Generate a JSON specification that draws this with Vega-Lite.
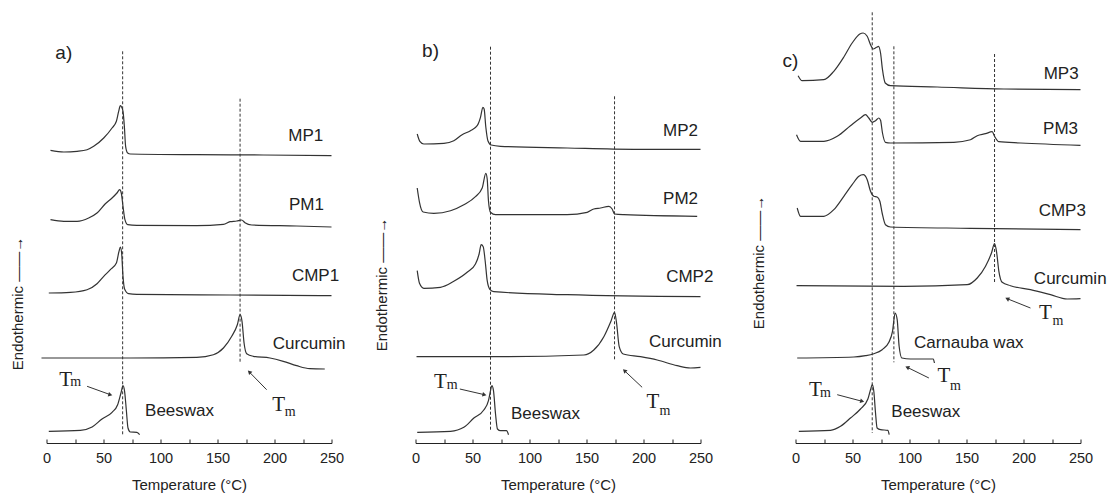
{
  "$schema": "https://vega.github.io/schema/vega-lite/v6.json",
  "background": "white",
  "padding": {"left": 9.5, "top": 10, "right": 0, "bottom": 0},
  "bounds": "flush",
  "spacing": 84,
  "config": {
    "view": {"stroke": null},
    "font": "Liberation Sans",
    "axisX": {
      "tickSize": -4, "labelPadding": 12, "grid": false,
      "domainColor": "#222", "tickColor": "#222",
      "labelFont": "Liberation Sans", "labelFontSize": 14.5, "labelColor": "#222",
      "titleFont": "Liberation Sans", "titleFontSize": 15, "titleFontWeight": "normal", "titleColor": "#222", "titlePadding": 13
    },
    "axisY": {
      "domain": false, "ticks": false, "labels": false, "grid": false,
      "titleFont": "Liberation Sans", "titleFontSize": 15, "titleFontWeight": "normal", "titleColor": "#222",
      "titleBaseline": "alphabetic", "titleAlign": "center"
    }
  },
  "datasets": {
    "curves": [
      {"p":"a","s":"MP1","t":3.5,"h":292.7},{"p":"a","s":"MP1","t":15.2,"h":291.0},{"p":"a","s":"MP1","t":26.8,"h":291.7},{"p":"a","s":"MP1","t":35.6,"h":293.3},{"p":"a","s":"MP1","t":41.4,"h":296.7},{"p":"a","s":"MP1","t":50.2,"h":305.0},{"p":"a","s":"MP1","t":57.5,"h":315.0},{"p":"a","s":"MP1","t":61.3,"h":321.7},{"p":"a","s":"MP1","t":63.3,"h":331.7},{"p":"a","s":"MP1","t":64.8,"h":337.3},{"p":"a","s":"MP1","t":65.9,"h":336.0},{"p":"a","s":"MP1","t":67.1,"h":331.7},{"p":"a","s":"MP1","t":68.3,"h":316.7},{"p":"a","s":"MP1","t":69.4,"h":296.7},{"p":"a","s":"MP1","t":71.2,"h":290.0},{"p":"a","s":"MP1","t":73.5,"h":289.0},{"p":"a","s":"MP1","t":131.8,"h":288.3},{"p":"a","s":"MP1","t":190.2,"h":288.0},{"p":"a","s":"MP1","t":250,"h":287.3},
      {"p":"a","s":"PM1","t":3.5,"h":223.3},{"p":"a","s":"PM1","t":15.2,"h":221.7},{"p":"a","s":"PM1","t":26.8,"h":221.7},{"p":"a","s":"PM1","t":37.0,"h":225.0},{"p":"a","s":"PM1","t":44.3,"h":230.0},{"p":"a","s":"PM1","t":51.6,"h":239.3},{"p":"a","s":"PM1","t":57.5,"h":245.0},{"p":"a","s":"PM1","t":61.8,"h":250.0},{"p":"a","s":"PM1","t":64.2,"h":253.3},{"p":"a","s":"PM1","t":65.6,"h":250.0},{"p":"a","s":"PM1","t":67.1,"h":236.7},{"p":"a","s":"PM1","t":68.8,"h":223.3},{"p":"a","s":"PM1","t":71.2,"h":218.3},{"p":"a","s":"PM1","t":79.3,"h":217.7},{"p":"a","s":"PM1","t":131.8,"h":217.3},{"p":"a","s":"PM1","t":155.2,"h":218.7},{"p":"a","s":"PM1","t":161.0,"h":221.3},{"p":"a","s":"PM1","t":166.9,"h":222.0},{"p":"a","s":"PM1","t":171.2,"h":223.0},{"p":"a","s":"PM1","t":174.1,"h":220.3},{"p":"a","s":"PM1","t":180.0,"h":218.0},{"p":"a","s":"PM1","t":219.4,"h":217.0},{"p":"a","s":"PM1","t":250,"h":216.0},
      {"p":"a","s":"CMP1","t":2.0,"h":150.0},{"p":"a","s":"CMP1","t":21.0,"h":150.7},{"p":"a","s":"CMP1","t":35.6,"h":153.3},{"p":"a","s":"CMP1","t":44.3,"h":159.3},{"p":"a","s":"CMP1","t":50.2,"h":166.7},{"p":"a","s":"CMP1","t":56.0,"h":173.3},{"p":"a","s":"CMP1","t":61.3,"h":180.0},{"p":"a","s":"CMP1","t":63.6,"h":191.7},{"p":"a","s":"CMP1","t":64.8,"h":196.0},{"p":"a","s":"CMP1","t":65.9,"h":190.0},{"p":"a","s":"CMP1","t":67.1,"h":166.7},{"p":"a","s":"CMP1","t":68.5,"h":154.0},{"p":"a","s":"CMP1","t":72.0,"h":149.3},{"p":"a","s":"CMP1","t":79.3,"h":148.7},{"p":"a","s":"CMP1","t":161.0,"h":148.0},{"p":"a","s":"CMP1","t":250,"h":147.3},
      {"p":"a","s":"Cur","t":-4.4,"h":85.0},{"p":"a","s":"Cur","t":73.5,"h":85.0},{"p":"a","s":"Cur","t":131.8,"h":85.7},{"p":"a","s":"Cur","t":146.4,"h":88.3},{"p":"a","s":"Cur","t":155.2,"h":95.0},{"p":"a","s":"Cur","t":162.5,"h":106.7},{"p":"a","s":"Cur","t":167.4,"h":118.3},{"p":"a","s":"Cur","t":169.8,"h":128.3},{"p":"a","s":"Cur","t":171.5,"h":121.7},{"p":"a","s":"Cur","t":173.3,"h":100.0},{"p":"a","s":"Cur","t":175.6,"h":89.3},{"p":"a","s":"Cur","t":181.4,"h":86.7},{"p":"a","s":"Cur","t":196.0,"h":85.0},{"p":"a","s":"Cur","t":207.7,"h":81.7},{"p":"a","s":"Cur","t":219.4,"h":77.3},{"p":"a","s":"Cur","t":231.0,"h":74.3},{"p":"a","s":"Cur","t":244.1,"h":74.0},
      {"p":"a","s":"Bee","t":2.0,"h":11.7},{"p":"a","s":"Bee","t":29.8,"h":12.7},{"p":"a","s":"Bee","t":40.0,"h":16.0},{"p":"a","s":"Bee","t":48.7,"h":24.0},{"p":"a","s":"Bee","t":57.5,"h":30.7},{"p":"a","s":"Bee","t":62.4,"h":38.3},{"p":"a","s":"Bee","t":65.3,"h":50.0},{"p":"a","s":"Bee","t":67.1,"h":57.3},{"p":"a","s":"Bee","t":68.5,"h":51.7},{"p":"a","s":"Bee","t":70.0,"h":33.3},{"p":"a","s":"Bee","t":71.5,"h":15.0},{"p":"a","s":"Bee","t":73.5,"h":11.0},{"p":"a","s":"Bee","t":79.3,"h":10.7},{"p":"a","s":"Bee","t":81.7,"h":8.3},

      {"p":"b","s":"MP2","t":1.5,"h":309.0},{"p":"b","s":"MP2","t":3.8,"h":301.7},{"p":"b","s":"MP2","t":7.3,"h":299.0},{"p":"b","s":"MP2","t":24.9,"h":299.7},{"p":"b","s":"MP2","t":33.6,"h":302.3},{"p":"b","s":"MP2","t":40.9,"h":308.3},{"p":"b","s":"MP2","t":48.2,"h":312.3},{"p":"b","s":"MP2","t":54.1,"h":317.3},{"p":"b","s":"MP2","t":57.0,"h":325.7},{"p":"b","s":"MP2","t":59.1,"h":335.7},{"p":"b","s":"MP2","t":60.2,"h":334.0},{"p":"b","s":"MP2","t":61.7,"h":315.7},{"p":"b","s":"MP2","t":63.5,"h":302.3},{"p":"b","s":"MP2","t":66.4,"h":298.0},{"p":"b","s":"MP2","t":74.6,"h":296.7},{"p":"b","s":"MP2","t":133.0,"h":295.0},{"p":"b","s":"MP2","t":191.5,"h":293.7},{"p":"b","s":"MP2","t":250,"h":293.7},
      {"p":"b","s":"PM2","t":1.5,"h":255.0},{"p":"b","s":"PM2","t":3.5,"h":240.7},{"p":"b","s":"PM2","t":6.7,"h":231.0},{"p":"b","s":"PM2","t":16.1,"h":229.7},{"p":"b","s":"PM2","t":30.7,"h":232.3},{"p":"b","s":"PM2","t":42.4,"h":238.3},{"p":"b","s":"PM2","t":52.6,"h":246.3},{"p":"b","s":"PM2","t":58.5,"h":255.0},{"p":"b","s":"PM2","t":61.7,"h":269.7},{"p":"b","s":"PM2","t":62.9,"h":264.0},{"p":"b","s":"PM2","t":64.0,"h":242.3},{"p":"b","s":"PM2","t":65.8,"h":230.7},{"p":"b","s":"PM2","t":70.2,"h":228.3},{"p":"b","s":"PM2","t":133.0,"h":228.3},{"p":"b","s":"PM2","t":150.6,"h":230.7},{"p":"b","s":"PM2","t":156.4,"h":234.0},{"p":"b","s":"PM2","t":162.3,"h":235.0},{"p":"b","s":"PM2","t":169.6,"h":236.7},{"p":"b","s":"PM2","t":172.5,"h":234.0},{"p":"b","s":"PM2","t":174.6,"h":229.0},{"p":"b","s":"PM2","t":182.8,"h":228.3},{"p":"b","s":"PM2","t":247.1,"h":226.7},
      {"p":"b","s":"CMP2","t":1.5,"h":172.3},{"p":"b","s":"CMP2","t":3.5,"h":159.7},{"p":"b","s":"CMP2","t":7.3,"h":154.7},{"p":"b","s":"CMP2","t":21.9,"h":155.7},{"p":"b","s":"CMP2","t":33.6,"h":161.7},{"p":"b","s":"CMP2","t":45.3,"h":170.7},{"p":"b","s":"CMP2","t":52.6,"h":179.0},{"p":"b","s":"CMP2","t":55.8,"h":189.0},{"p":"b","s":"CMP2","t":57.6,"h":198.3},{"p":"b","s":"CMP2","t":59.4,"h":196.3},{"p":"b","s":"CMP2","t":61.1,"h":182.3},{"p":"b","s":"CMP2","t":62.9,"h":162.3},{"p":"b","s":"CMP2","t":65.2,"h":153.7},{"p":"b","s":"CMP2","t":68.7,"h":151.3},{"p":"b","s":"CMP2","t":133.0,"h":148.3},{"p":"b","s":"CMP2","t":250,"h":146.3},
      {"p":"b","s":"Cur","t":0.9,"h":86.3},{"p":"b","s":"Cur","t":74.6,"h":86.3},{"p":"b","s":"Cur","t":147.7,"h":88.0},{"p":"b","s":"Cur","t":156.4,"h":93.0},{"p":"b","s":"Cur","t":165.2,"h":106.3},{"p":"b","s":"Cur","t":171.6,"h":122.3},{"p":"b","s":"Cur","t":174.6,"h":130.7},{"p":"b","s":"Cur","t":176.3,"h":120.7},{"p":"b","s":"Cur","t":178.7,"h":96.3},{"p":"b","s":"Cur","t":182.2,"h":89.0},{"p":"b","s":"Cur","t":197.4,"h":86.3},{"p":"b","s":"Cur","t":212.0,"h":83.0},{"p":"b","s":"Cur","t":229.5,"h":77.3},{"p":"b","s":"Cur","t":241.2,"h":75.0},{"p":"b","s":"Cur","t":250,"h":75.7},
      {"p":"b","s":"Bee","t":1.5,"h":10.7},{"p":"b","s":"Bee","t":30.7,"h":11.7},{"p":"b","s":"Bee","t":42.4,"h":15.7},{"p":"b","s":"Bee","t":51.2,"h":25.0},{"p":"b","s":"Bee","t":59.9,"h":33.0},{"p":"b","s":"Bee","t":64.0,"h":42.3},{"p":"b","s":"Bee","t":65.8,"h":52.3},{"p":"b","s":"Bee","t":67.0,"h":57.3},{"p":"b","s":"Bee","t":68.4,"h":52.3},{"p":"b","s":"Bee","t":70.2,"h":29.0},{"p":"b","s":"Bee","t":71.9,"h":14.0},{"p":"b","s":"Bee","t":74.6,"h":12.3},{"p":"b","s":"Bee","t":79.8,"h":12.3},{"p":"b","s":"Bee","t":81.6,"h":8.3},

      {"p":"c","s":"MP3","t":2.3,"h":367.3},{"p":"c","s":"MP3","t":5.8,"h":362.3},{"p":"c","s":"MP3","t":24.9,"h":363.3},{"p":"c","s":"MP3","t":33.6,"h":371.7},{"p":"c","s":"MP3","t":42.4,"h":386.0},{"p":"c","s":"MP3","t":49.7,"h":400.0},{"p":"c","s":"MP3","t":56.4,"h":409.0},{"p":"c","s":"MP3","t":59.4,"h":410.0},{"p":"c","s":"MP3","t":62.9,"h":406.7},{"p":"c","s":"MP3","t":65.8,"h":398.3},{"p":"c","s":"MP3","t":68.1,"h":394.0},{"p":"c","s":"MP3","t":71.1,"h":395.7},{"p":"c","s":"MP3","t":72.8,"h":396.7},{"p":"c","s":"MP3","t":74.6,"h":390.0},{"p":"c","s":"MP3","t":76.3,"h":373.3},{"p":"c","s":"MP3","t":78.7,"h":360.0},{"p":"c","s":"MP3","t":83.3,"h":357.3},{"p":"c","s":"MP3","t":124.3,"h":356.0},{"p":"c","s":"MP3","t":182.8,"h":354.0},{"p":"c","s":"MP3","t":250,"h":353.3},
      {"p":"c","s":"PM3","t":0.9,"h":308.3},{"p":"c","s":"PM3","t":4.4,"h":301.7},{"p":"c","s":"PM3","t":24.9,"h":301.7},{"p":"c","s":"PM3","t":36.6,"h":306.7},{"p":"c","s":"PM3","t":48.2,"h":317.3},{"p":"c","s":"PM3","t":57.0,"h":325.0},{"p":"c","s":"PM3","t":61.4,"h":328.3},{"p":"c","s":"PM3","t":64.3,"h":325.0},{"p":"c","s":"PM3","t":67.3,"h":320.7},{"p":"c","s":"PM3","t":70.2,"h":322.3},{"p":"c","s":"PM3","t":73.1,"h":325.0},{"p":"c","s":"PM3","t":74.6,"h":322.7},{"p":"c","s":"PM3","t":76.3,"h":310.0},{"p":"c","s":"PM3","t":78.9,"h":300.7},{"p":"c","s":"PM3","t":83.3,"h":300.0},{"p":"c","s":"PM3","t":138.9,"h":300.7},{"p":"c","s":"PM3","t":153.5,"h":303.3},{"p":"c","s":"PM3","t":159.4,"h":307.3},{"p":"c","s":"PM3","t":166.7,"h":309.3},{"p":"c","s":"PM3","t":172.5,"h":311.3},{"p":"c","s":"PM3","t":174.6,"h":306.7},{"p":"c","s":"PM3","t":178.4,"h":301.3},{"p":"c","s":"PM3","t":197.4,"h":300.0},{"p":"c","s":"PM3","t":250,"h":297.7},
      {"p":"c","s":"CMP3","t":1.5,"h":235.0},{"p":"c","s":"CMP3","t":4.4,"h":226.7},{"p":"c","s":"CMP3","t":24.9,"h":226.7},{"p":"c","s":"CMP3","t":33.6,"h":233.3},{"p":"c","s":"CMP3","t":42.4,"h":246.7},{"p":"c","s":"CMP3","t":49.7,"h":258.3},{"p":"c","s":"CMP3","t":55.6,"h":266.7},{"p":"c","s":"CMP3","t":59.4,"h":268.3},{"p":"c","s":"CMP3","t":62.9,"h":263.3},{"p":"c","s":"CMP3","t":65.8,"h":251.7},{"p":"c","s":"CMP3","t":68.7,"h":246.7},{"p":"c","s":"CMP3","t":71.6,"h":246.0},{"p":"c","s":"CMP3","t":74.0,"h":241.7},{"p":"c","s":"CMP3","t":76.0,"h":230.0},{"p":"c","s":"CMP3","t":78.9,"h":218.3},{"p":"c","s":"CMP3","t":83.3,"h":216.0},{"p":"c","s":"CMP3","t":153.5,"h":214.7},{"p":"c","s":"CMP3","t":250,"h":213.3},
      {"p":"c","s":"Cur","t":0.9,"h":157.3},{"p":"c","s":"Cur","t":95.0,"h":156.7},{"p":"c","s":"Cur","t":150.6,"h":158.3},{"p":"c","s":"Cur","t":159.4,"h":165.0},{"p":"c","s":"Cur","t":166.7,"h":176.7},{"p":"c","s":"Cur","t":171.9,"h":190.0},{"p":"c","s":"Cur","t":174.6,"h":199.3},{"p":"c","s":"Cur","t":176.3,"h":191.7},{"p":"c","s":"Cur","t":178.4,"h":171.7},{"p":"c","s":"Cur","t":181.3,"h":160.7},{"p":"c","s":"Cur","t":188.6,"h":157.3},{"p":"c","s":"Cur","t":206.1,"h":153.3},{"p":"c","s":"Cur","t":223.7,"h":148.3},{"p":"c","s":"Cur","t":238.3,"h":144.0},{"p":"c","s":"Cur","t":250,"h":144.3},
      {"p":"c","s":"Car","t":1.5,"h":85.0},{"p":"c","s":"Car","t":51.2,"h":86.0},{"p":"c","s":"Car","t":61.4,"h":87.3},{"p":"c","s":"Car","t":68.7,"h":89.3},{"p":"c","s":"Car","t":76.0,"h":93.3},{"p":"c","s":"Car","t":81.9,"h":100.7},{"p":"c","s":"Car","t":85.1,"h":111.7},{"p":"c","s":"Car","t":87.4,"h":130.0},{"p":"c","s":"Car","t":89.2,"h":123.3},{"p":"c","s":"Car","t":90.9,"h":96.7},{"p":"c","s":"Car","t":93.3,"h":85.0},{"p":"c","s":"Car","t":100.9,"h":84.0},{"p":"c","s":"Car","t":120.8,"h":84.0},{"p":"c","s":"Car","t":121.9,"h":80.0},
      {"p":"c","s":"Bee","t":2.9,"h":11.7},{"p":"c","s":"Bee","t":30.7,"h":12.7},{"p":"c","s":"Bee","t":39.5,"h":16.7},{"p":"c","s":"Bee","t":48.2,"h":25.0},{"p":"c","s":"Bee","t":57.0,"h":34.0},{"p":"c","s":"Bee","t":63.5,"h":44.0},{"p":"c","s":"Bee","t":65.8,"h":53.3},{"p":"c","s":"Bee","t":67.3,"h":58.3},{"p":"c","s":"Bee","t":68.7,"h":51.7},{"p":"c","s":"Bee","t":70.2,"h":30.0},{"p":"c","s":"Bee","t":71.6,"h":15.0},{"p":"c","s":"Bee","t":74.6,"h":13.3},{"p":"c","s":"Bee","t":81.0,"h":12.7},{"p":"c","s":"Bee","t":82.2,"h":8.3}
    ],
    "dashes": [
      {"p":"a","t":66.8,"h":391.7,"h2":6.7},{"p":"a","t":169.8,"h":344.3,"h2":80.0},
      {"p":"b","t":65.8,"h":396.3,"h2":12.3},{"p":"b","t":174.6,"h":346.7,"h2":82.3},
      {"p":"c","t":67.3,"h":430.7,"h2":10.0},{"p":"c","t":86.3,"h":396.7,"h2":80.7},{"p":"c","t":174.6,"h":389.0,"h2":160.0}
    ],
    "arrows": [
      {"p":"a","dir":"r","t":56.0,"h":48.3,"t2":35.6,"h2":56.7},
      {"p":"a","dir":"ul","t":177.9,"h":71.0,"t2":193.1,"h2":53.3},
      {"p":"b","dir":"r","t":60.5,"h":48.3,"t2":38.9,"h2":54.0},
      {"p":"b","dir":"ul","t":183.3,"h":72.3,"t2":198.8,"h2":55.7},
      {"p":"c","dir":"r","t":58.5,"h":41.7,"t2":36.6,"h2":48.3},
      {"p":"c","dir":"l","t":98.0,"h":75.7,"t2":117.0,"h2":65.0},
      {"p":"c","dir":"l","t":185.7,"h":144.3,"t2":206.1,"h2":135.0}
    ],
    "tm": [
      {"p":"a","c":"T","t":16.9,"h":63.3},{"p":"a","c":"m","t":25.7,"h":60.7},
      {"p":"a","c":"T","t":203.6,"h":37.7},{"p":"a","c":"m","t":213.8,"h":30.7},
      {"p":"b","c":"T","t":21.9,"h":60.7},{"p":"b","c":"m","t":32.2,"h":58.3},
      {"p":"b","c":"T","t":208.2,"h":40.7},{"p":"b","c":"m","t":218.7,"h":32.3},
      {"p":"c","c":"T","t":17.5,"h":53.3},{"p":"c","c":"m","t":26.3,"h":50.0},
      {"p":"c","c":"T","t":130.1,"h":66.7},{"p":"c","c":"m","t":140.4,"h":57.3},
      {"p":"c","c":"T","t":219.3,"h":130.0},{"p":"c","c":"m","t":230.1,"h":121.7}
    ],
    "labels": [
      {"p":"a","t":227.5,"h":307.0,"text":"MP1"},{"p":"a","t":228.0,"h":238.0,"text":"PM1"},{"p":"a","t":236.0,"h":167.0,"text":"CMP1"},{"p":"a","t":230.4,"h":99.0,"text":"Curcumin"},{"p":"a","t":116.7,"h":31.7,"text":"Beeswax"},
      {"p":"b","t":232.5,"h":312.3,"text":"MP2"},{"p":"b","t":232.5,"h":244.0,"text":"PM2"},{"p":"b","t":240.6,"h":165.7,"text":"CMP2"},{"p":"b","t":236.8,"h":101.3,"text":"Curcumin"},{"p":"b","t":114.0,"h":29.0,"text":"Beeswax"},
      {"p":"c","t":233.0,"h":369.0,"text":"MP3"},{"p":"c","t":232.5,"h":314.0,"text":"PM3"},{"p":"c","t":234.0,"h":231.7,"text":"CMP3"},{"p":"c","t":241.0,"h":164.0,"text":"Curcumin"},{"p":"c","t":152.0,"h":100.0,"text":"Carnauba wax"},{"p":"c","t":114.3,"h":30.7,"text":"Beeswax"}
    ],
    "letters": [
      {"p":"a","t":15.2,"h":390.0,"text":"a)"},
      {"p":"b","t":13.2,"h":392.3,"text":"b)"},
      {"p":"c","t":-4.4,"h":381.7,"text":"c)"}
    ]
  },
  "hconcat": [
    {
      "width": 285, "height": 433,
      "encoding": {
        "x": {"field": "t", "type": "quantitative", "scale": {"domain": [0, 250], "nice": false}, "title": "Temperature (°C)",
              "axis": {"values": [0, 25, 50, 75, 100, 125, 150, 175, 200, 225, 250], "labelExpr": "datum.value % 50 == 0 ? datum.label : ''", "labelOverlap": false, "labelFlush": false}},
        "y": {"field": "h", "type": "quantitative", "scale": {"domain": [0, 433], "nice": false, "zero": false}, "axis": {"title": "Endothermic ——→", "titleX": -24.5, "titleY": 293}}
      },
      "layer": [
        {"data": {"name": "curves"}, "transform": [{"filter": "datum.p == 'a'"}], "mark": {"type": "line", "color": "#333", "strokeWidth": 1.2, "interpolate": "monotone"}, "encoding": {"detail": {"field": "s"}}},
        {"data": {"name": "dashes"}, "transform": [{"filter": "datum.p == 'a'"}], "mark": {"type": "rule", "color": "#333", "strokeDash": [3, 2], "strokeWidth": 1}, "encoding": {"y2": {"field": "h2"}}},
        {"data": {"name": "arrows"}, "transform": [{"filter": "datum.p == 'a'"}], "mark": {"type": "rule", "color": "#333", "strokeWidth": 1}, "encoding": {"x2": {"field": "t2"}, "y2": {"field": "h2"}}},
        {"data": {"name": "arrows"}, "transform": [{"filter": "datum.p == 'a' && datum.dir == 'r'"}], "mark": {"type": "point", "shape": "triangle-right", "filled": true, "opacity": 1, "color": "#333", "size": 22, "angle": 15}},
        {"data": {"name": "arrows"}, "transform": [{"filter": "datum.p == 'a' && datum.dir == 'ul'"}], "mark": {"type": "point", "shape": "triangle-right", "filled": true, "opacity": 1, "color": "#333", "size": 22, "angle": 225}},
        {"data": {"name": "tm"}, "transform": [{"filter": "datum.p == 'a' && datum.c == 'T'"}], "mark": {"type": "text", "font": "Liberation Serif", "fontSize": 21, "color": "#222", "align": "center", "baseline": "middle"}, "encoding": {"text": {"field": "c"}}},
        {"data": {"name": "tm"}, "transform": [{"filter": "datum.p == 'a' && datum.c == 'm'"}], "mark": {"type": "text", "font": "Liberation Serif", "fontSize": 14, "color": "#222", "align": "center", "baseline": "middle"}, "encoding": {"text": {"field": "c"}}},
        {"data": {"name": "labels"}, "transform": [{"filter": "datum.p == 'a'"}], "mark": {"type": "text", "font": "Liberation Sans", "fontSize": 17, "color": "#222", "align": "center", "baseline": "middle"}, "encoding": {"text": {"field": "text"}}},
        {"data": {"name": "letters"}, "transform": [{"filter": "datum.p == 'a'"}], "mark": {"type": "text", "font": "Liberation Sans", "fontSize": 19, "color": "#222", "align": "center", "baseline": "middle"}, "encoding": {"text": {"field": "text"}}}
      ]
    },
    {
      "width": 296, "height": 433,
      "encoding": {
        "x": {"field": "t", "type": "quantitative", "scale": {"domain": [0, 250], "range": [0, 285], "nice": false}, "title": "Temperature (°C)",
              "axis": {"values": [0, 25, 50, 75, 100, 125, 150, 175, 200, 225, 250], "labelExpr": "datum.value % 50 == 0 ? datum.label : ''", "labelOverlap": false, "labelFlush": false}},
        "y": {"field": "h", "type": "quantitative", "scale": {"domain": [0, 433], "nice": false, "zero": false}, "axis": {"title": "Endothermic ——→", "titleX": -29, "titleY": 274}}
      },
      "layer": [
        {"data": {"name": "curves"}, "transform": [{"filter": "datum.p == 'b'"}], "mark": {"type": "line", "color": "#333", "strokeWidth": 1.2, "interpolate": "monotone"}, "encoding": {"detail": {"field": "s"}}},
        {"data": {"name": "dashes"}, "transform": [{"filter": "datum.p == 'b'"}], "mark": {"type": "rule", "color": "#333", "strokeDash": [3, 2], "strokeWidth": 1}, "encoding": {"y2": {"field": "h2"}}},
        {"data": {"name": "arrows"}, "transform": [{"filter": "datum.p == 'b'"}], "mark": {"type": "rule", "color": "#333", "strokeWidth": 1}, "encoding": {"x2": {"field": "t2"}, "y2": {"field": "h2"}}},
        {"data": {"name": "arrows"}, "transform": [{"filter": "datum.p == 'b' && datum.dir == 'r'"}], "mark": {"type": "point", "shape": "triangle-right", "filled": true, "opacity": 1, "color": "#333", "size": 22, "angle": 13}},
        {"data": {"name": "arrows"}, "transform": [{"filter": "datum.p == 'b' && datum.dir == 'ul'"}], "mark": {"type": "point", "shape": "triangle-right", "filled": true, "opacity": 1, "color": "#333", "size": 22, "angle": 223}},
        {"data": {"name": "tm"}, "transform": [{"filter": "datum.p == 'b' && datum.c == 'T'"}], "mark": {"type": "text", "font": "Liberation Serif", "fontSize": 21, "color": "#222", "align": "center", "baseline": "middle"}, "encoding": {"text": {"field": "c"}}},
        {"data": {"name": "tm"}, "transform": [{"filter": "datum.p == 'b' && datum.c == 'm'"}], "mark": {"type": "text", "font": "Liberation Serif", "fontSize": 14, "color": "#222", "align": "center", "baseline": "middle"}, "encoding": {"text": {"field": "c"}}},
        {"data": {"name": "labels"}, "transform": [{"filter": "datum.p == 'b'"}], "mark": {"type": "text", "font": "Liberation Sans", "fontSize": 17, "color": "#222", "align": "center", "baseline": "middle"}, "encoding": {"text": {"field": "text"}}},
        {"data": {"name": "letters"}, "transform": [{"filter": "datum.p == 'b'"}], "mark": {"type": "text", "font": "Liberation Sans", "fontSize": 19, "color": "#222", "align": "center", "baseline": "middle"}, "encoding": {"text": {"field": "text"}}}
      ]
    },
    {
      "width": 285, "height": 433,
      "encoding": {
        "x": {"field": "t", "type": "quantitative", "scale": {"domain": [0, 250], "nice": false}, "title": "Temperature (°C)",
              "axis": {"values": [0, 25, 50, 75, 100, 125, 150, 175, 200, 225, 250], "labelExpr": "datum.value % 50 == 0 ? datum.label : ''", "labelOverlap": false, "labelFlush": false}},
        "y": {"field": "h", "type": "quantitative", "scale": {"domain": [0, 433], "nice": false, "zero": false}, "axis": {"title": "Endothermic ——→", "titleX": -32, "titleY": 252}}
      },
      "layer": [
        {"data": {"name": "curves"}, "transform": [{"filter": "datum.p == 'c'"}], "mark": {"type": "line", "color": "#333", "strokeWidth": 1.2, "interpolate": "monotone"}, "encoding": {"detail": {"field": "s"}}},
        {"data": {"name": "dashes"}, "transform": [{"filter": "datum.p == 'c'"}], "mark": {"type": "rule", "color": "#333", "strokeDash": [3, 2], "strokeWidth": 1}, "encoding": {"y2": {"field": "h2"}}},
        {"data": {"name": "arrows"}, "transform": [{"filter": "datum.p == 'c'"}], "mark": {"type": "rule", "color": "#333", "strokeWidth": 1}, "encoding": {"x2": {"field": "t2"}, "y2": {"field": "h2"}}},
        {"data": {"name": "arrows"}, "transform": [{"filter": "datum.p == 'c' && datum.dir == 'r'"}], "mark": {"type": "point", "shape": "triangle-right", "filled": true, "opacity": 1, "color": "#333", "size": 22, "angle": 15}},
        {"data": {"name": "arrows"}, "transform": [{"filter": "datum.p == 'c' && datum.dir == 'l'"}], "mark": {"type": "point", "shape": "triangle-right", "filled": true, "opacity": 1, "color": "#333", "size": 22, "angle": 204}},
        {"data": {"name": "tm"}, "transform": [{"filter": "datum.p == 'c' && datum.c == 'T'"}], "mark": {"type": "text", "font": "Liberation Serif", "fontSize": 21, "color": "#222", "align": "center", "baseline": "middle"}, "encoding": {"text": {"field": "c"}}},
        {"data": {"name": "tm"}, "transform": [{"filter": "datum.p == 'c' && datum.c == 'm'"}], "mark": {"type": "text", "font": "Liberation Serif", "fontSize": 14, "color": "#222", "align": "center", "baseline": "middle"}, "encoding": {"text": {"field": "c"}}},
        {"data": {"name": "labels"}, "transform": [{"filter": "datum.p == 'c'"}], "mark": {"type": "text", "font": "Liberation Sans", "fontSize": 17, "color": "#222", "align": "center", "baseline": "middle"}, "encoding": {"text": {"field": "text"}}},
        {"data": {"name": "letters"}, "transform": [{"filter": "datum.p == 'c'"}], "mark": {"type": "text", "font": "Liberation Sans", "fontSize": 19, "color": "#222", "align": "center", "baseline": "middle"}, "encoding": {"text": {"field": "text"}}}
      ]
    }
  ]
}
